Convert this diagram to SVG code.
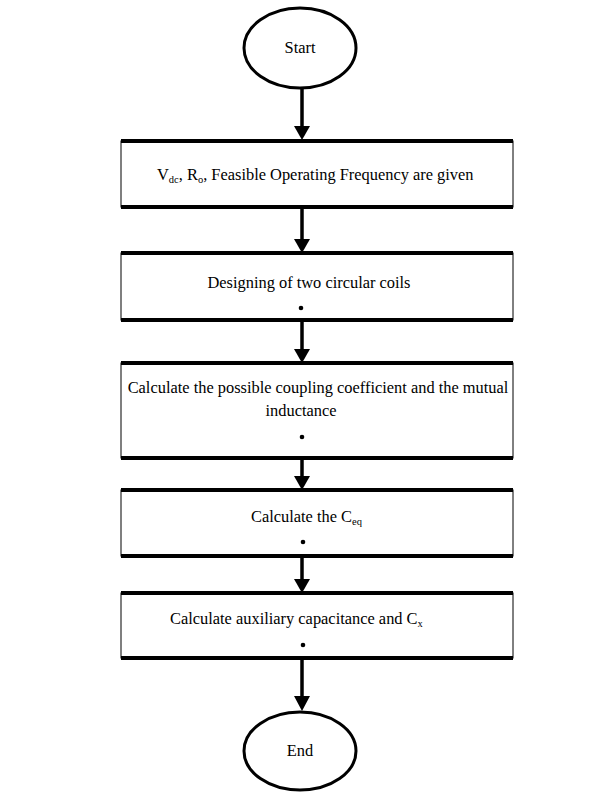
<svg xmlns="http://www.w3.org/2000/svg" width="597" height="792" viewBox="0 0 597 792">
<style>
.t{font-family:"Liberation Serif","Times New Roman",serif;font-size:16.4px;fill:#000}
.sub{font-size:10.5px}
.box{fill:#fff;stroke:#000;stroke-width:1}
.hl{stroke:#000;stroke-width:4}
.ell{fill:#fff;stroke:#000;stroke-width:3}
.con{stroke:#000;stroke-width:3.5;fill:none}
.dot{fill:#000}
</style>
<rect width="597" height="792" fill="#fff"/>
<g id="connectors">
<line class="con" x1="302" y1="88" x2="302" y2="128"/>
<path d="M294,126 L310,126 L302,140 Z"/>
<line class="con" x1="302" y1="207" x2="302" y2="241"/>
<path d="M294,239 L310,239 L302,253 Z"/>
<line class="con" x1="302" y1="320" x2="302" y2="351"/>
<path d="M294,349 L310,349 L302,363 Z"/>
<line class="con" x1="302" y1="458" x2="302" y2="478"/>
<path d="M294,476 L310,476 L302,490 Z"/>
<line class="con" x1="302" y1="556" x2="302" y2="581"/>
<path d="M294,579 L310,579 L302,593 Z"/>
<line class="con" x1="302" y1="658" x2="302" y2="698"/>
<path d="M294,696 L310,696 L302,711 Z"/>
</g>
<g id="start">
<ellipse class="ell" cx="300" cy="48" rx="56" ry="40"/>
<text class="t" x="300" y="53" text-anchor="middle">Start</text>
</g>
<g id="step1">
<rect class="box" x="121" y="141" width="392" height="66"/>
<line class="hl" x1="121" y1="141" x2="513" y2="141"/>
<line class="hl" x1="121" y1="207" x2="513" y2="207"/>
<text class="t" x="157" y="180">V<tspan class="sub" dy="3">dc</tspan><tspan dy="-3">, R</tspan><tspan class="sub" dy="3">o</tspan><tspan dy="-3">, Feasible Operating Frequency are given</tspan></text>
</g>
<g id="step2">
<rect class="box" x="121" y="253" width="392" height="67"/>
<line class="hl" x1="121" y1="253" x2="513" y2="253"/>
<line class="hl" x1="121" y1="320" x2="513" y2="320"/>
<text class="t" x="309" y="288" text-anchor="middle">Designing of two circular coils</text>
<circle class="dot" cx="301" cy="308" r="2.3"/>
</g>
<g id="step3">
<rect class="box" x="121" y="363" width="392" height="95"/>
<line class="hl" x1="121" y1="363" x2="513" y2="363"/>
<line class="hl" x1="121" y1="458" x2="513" y2="458"/>
<text class="t" x="318" y="393" text-anchor="middle">Calculate the possible coupling coefficient and the mutual</text>
<text class="t" x="301" y="416" text-anchor="middle">inductance</text>
<circle class="dot" cx="302" cy="437" r="2.3"/>
</g>
<g id="step4">
<rect class="box" x="121" y="490" width="392" height="66"/>
<line class="hl" x1="121" y1="490" x2="513" y2="490"/>
<line class="hl" x1="121" y1="556" x2="513" y2="556"/>
<text class="t" x="251" y="522">Calculate the C<tspan class="sub" dy="3">eq</tspan></text>
<circle class="dot" cx="303" cy="542" r="2.3"/>
</g>
<g id="step5">
<rect class="box" x="121" y="593" width="392" height="65"/>
<line class="hl" x1="121" y1="593" x2="513" y2="593"/>
<line class="hl" x1="121" y1="658" x2="513" y2="658"/>
<text class="t" x="170" y="624">Calculate auxiliary capacitance and C<tspan class="sub" dy="3">x</tspan></text>
<circle class="dot" cx="303" cy="645" r="2.3"/>
</g>
<g id="end">
<ellipse class="ell" cx="300" cy="751" rx="56" ry="39"/>
<text class="t" x="300" y="756" text-anchor="middle">End</text>
</g>
</svg>
